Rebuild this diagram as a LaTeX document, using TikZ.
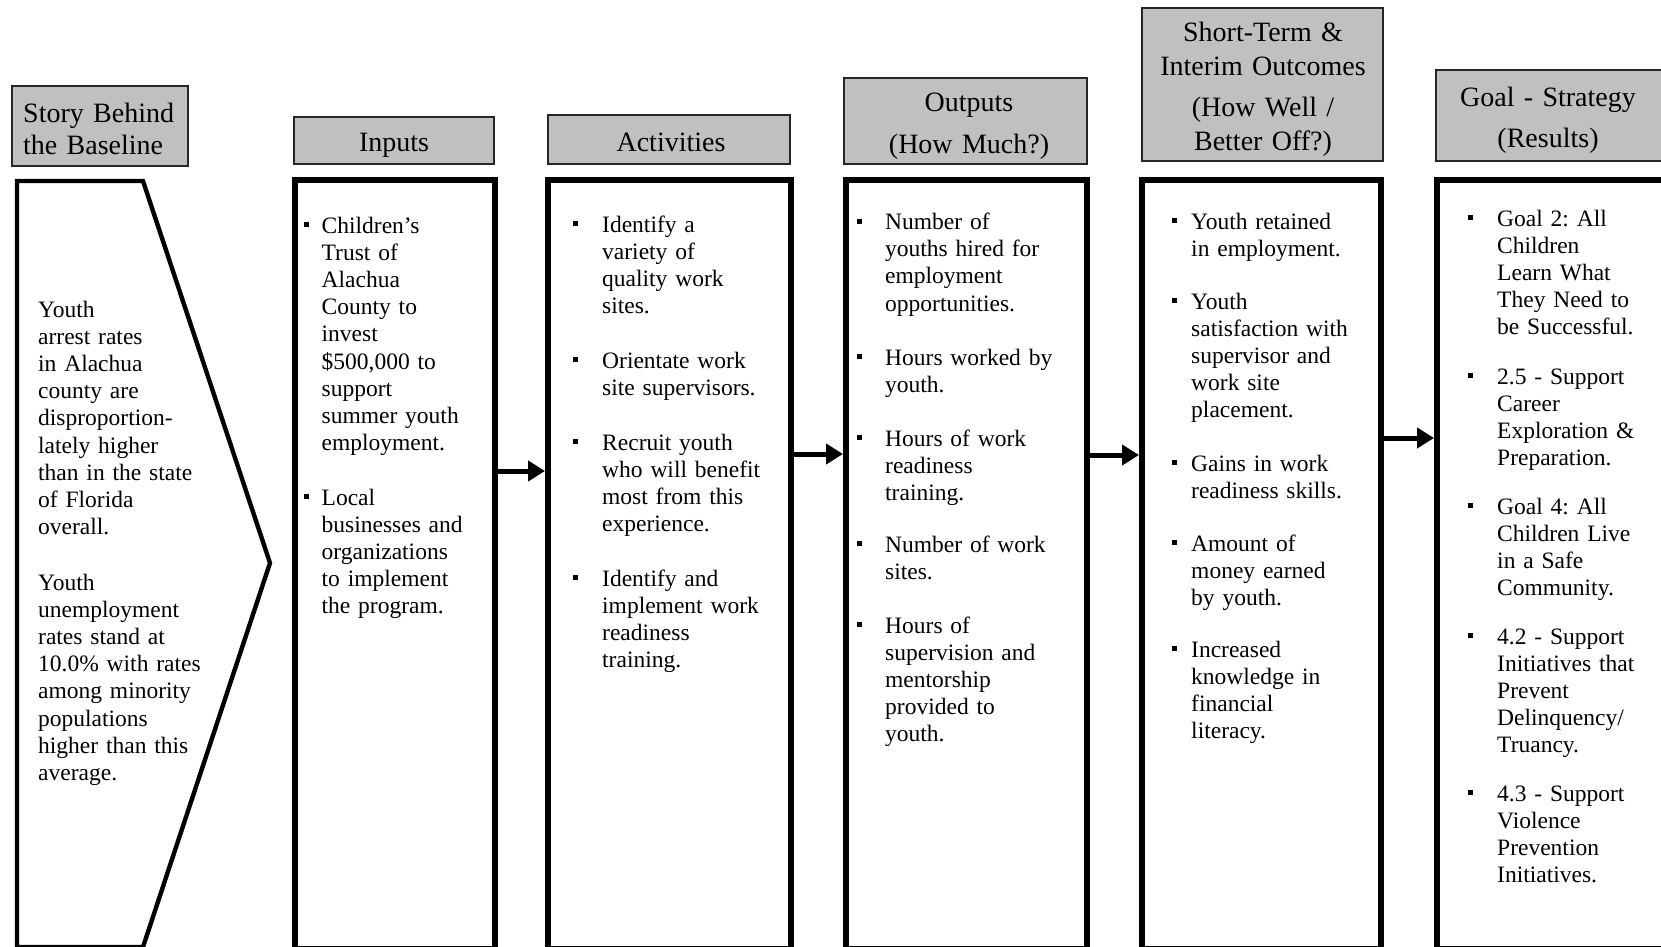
\documentclass[tikz,border=0pt]{standalone}
\usepackage{fontspec}
\setmainfont{Liberation Serif}
\usetikzlibrary{arrows.meta}
\definecolor{hdrgray}{RGB}{192,192,192}
\frenchspacing
\newcommand{\bodyfnt}{\fontsize{23.5}{27.2}\selectfont}
\newcommand{\headfnt}{\fontsize{28}{32}\selectfont}
\newcommand{\shortfnt}{\fontsize{28}{34}\selectfont}
\newcommand{\sqbul}[1]{\llap{\rule[6pt]{5pt}{5pt}\hspace{#1}}}
\begin{document}
\begin{tikzpicture}[x=1pt,y=-1pt,
  hdr/.style={draw=black!85, line width=1.6pt, fill=hdrgray, inner sep=0pt, anchor=center},
  bigbox/.style={draw=black, line width=6pt, fill=white, inner sep=0pt, anchor=center, minimum height=769pt},
  htext/.style={font=\headfnt, inner sep=0pt, align=center, anchor=base, text width=#1},
  btext/.style={font=\bodyfnt, inner sep=0pt, anchor=base west, align=left, text width=240pt},
  arr/.style={draw=black, line width=5pt, -{Triangle[length=17pt,width=20pt]}},
  story/.style={draw=black, line width=4.4pt, line join=miter},
]
\useasboundingbox (0,0) rectangle (1661,946);
\clip (0,0) rectangle (1661,946);
\fill[white] (0,0) rectangle (1661,946);

% ---- headers ----
\node[hdr, minimum width=176pt, minimum height=80pt] (hst) at (100,126) {};
\node[hdr, minimum width=200pt, minimum height=47pt] (hin) at (394,140.5) {};
\node[hdr, minimum width=242pt, minimum height=49pt] (hac) at (669,139.5) {};
\node[hdr, minimum width=243pt, minimum height=86pt] (hou) at (965.5,121) {};
\node[hdr, minimum width=241pt, minimum height=153pt] (hsh) at (1262.5,84.5) {};
\node[hdr, minimum width=228pt, minimum height=91pt] (hgo) at (1550,115.5) {};

\node[font=\headfnt, inner sep=0pt, align=left, anchor=base west, text width=170pt] (tst) at (23,122) {Story Behind\\the Baseline};
\node[htext=200pt] (tin) at (394,151) {Inputs};
\node[htext=240pt] (tac) at (671,151) {Activities};
\node[htext=240pt] (tou) at (969,111) {Outputs\\[10pt](How Much?)};
\node[htext=240pt, font=\shortfnt] (tsh) at (1263,41) {Short-Term \&\\Interim Outcomes\\[7pt](How Well /\\Better Off?)};
\node[htext=226pt] (tgo) at (1548,106) {Goal - Strategy\\[9pt](Results)};

% ---- story shape ----
\draw[story] (17,181) -- (143,181) -- (270,563) -- (143,947) -- (17,947) -- cycle;
\node[btext] (st1) at (38,317) {Youth\\arrest rates\\in Alachua\\county are\\disproportion-\\lately higher\\than in the state\\of Florida\\overall.};
\node[btext] (st2) at (38,590) {Youth\\unemployment\\rates stand at\\10.0\% with rates\\among minority\\populations\\higher than this\\average.};

% ---- main boxes ----
\node[bigbox, minimum width=200pt] (inp) at (395,564.5) {};
\node[bigbox, minimum width=243pt] (act) at (669.5,564.5) {};
\node[bigbox, minimum width=241pt] (out) at (966.5,564.5) {};
\node[bigbox, minimum width=239pt] (sho) at (1261.5,564.5) {};
\node[bigbox, minimum width=233pt] (goa) at (1553.5,564.5) {};

% ---- inputs ----
\node[btext] (in1) at (321.5,233) {\sqbul{13pt}Children’s\\Trust of\\Alachua\\County to\\invest\\\$500,000 to\\support\\summer youth\\employment.};
\node[btext] (in2) at (321.5,505) {\sqbul{13pt}Local\\businesses and\\organizations\\to implement\\the program.};

% ---- activities ----
\node[btext] (ac1) at (602,232) {\sqbul{24pt}Identify a\\variety of\\quality work\\sites.};
\node[btext] (ac2) at (602,368) {\sqbul{24pt}Orientate work\\site supervisors.};
\node[btext] (ac3) at (602,450) {\sqbul{24pt}Recruit youth\\who will benefit\\most from this\\experience.};
\node[btext] (ac4) at (602,586) {\sqbul{24pt}Identify and\\implement work\\readiness\\training.};

% ---- outputs ----
\node[btext] (ou1) at (885,229.5) {\sqbul{23pt}Number of\\youths hired for\\employment\\opportunities.};
\node[btext] (ou2) at (885,365) {\sqbul{23pt}Hours worked by\\youth.};
\node[btext] (ou3) at (885,446) {\sqbul{23pt}Hours of work\\readiness\\training.};
\node[btext] (ou4) at (885,552) {\sqbul{23pt}Number of work\\sites.};
\node[btext] (ou5) at (885,633) {\sqbul{23pt}Hours of\\supervision and\\mentorship\\provided to\\youth.};

% ---- short-term ----
\node[btext] (sh1) at (1191,229) {\sqbul{14pt}Youth retained\\in employment.};
\node[btext] (sh2) at (1191,309) {\sqbul{14pt}Youth\\satisfaction with\\supervisor and\\work site\\placement.};
\node[btext] (sh3) at (1191,471) {\sqbul{14pt}Gains in work\\readiness skills.};
\node[btext] (sh4) at (1191,551) {\sqbul{14pt}Amount of\\money earned\\by youth.};
\node[btext] (sh5) at (1191,657) {\sqbul{14pt}Increased\\knowledge in\\financial\\literacy.};

% ---- goals ----
\node[btext] (go1) at (1497,226) {\sqbul{24pt}Goal 2: All\\Children\\Learn What\\They Need to\\be Successful.};
\node[btext] (go2) at (1497,384) {\sqbul{24pt}2.5 - Support\\Career\\Exploration \&\\Preparation.};
\node[btext] (go3) at (1497,514) {\sqbul{24pt}Goal 4: All\\Children Live\\in a Safe\\Community.};
\node[btext] (go4) at (1497,644) {\sqbul{24pt}4.2 - Support\\Initiatives that\\Prevent\\Delinquency/\\Truancy.};
\node[btext] (go5) at (1497,801) {\sqbul{24pt}4.3 - Support\\Violence\\Prevention\\Initiatives.};

% ---- arrows ----
\draw[arr] (inp.east |- 0,471) -- (act.west |- 0,471);
\draw[arr] (act.east |- 0,454) -- (out.west |- 0,454);
\draw[arr] (out.east |- 0,455) -- (sho.west |- 0,455);
\draw[arr] (sho.east |- 0,438) -- (goa.west |- 0,438);
\end{tikzpicture}
\end{document}
